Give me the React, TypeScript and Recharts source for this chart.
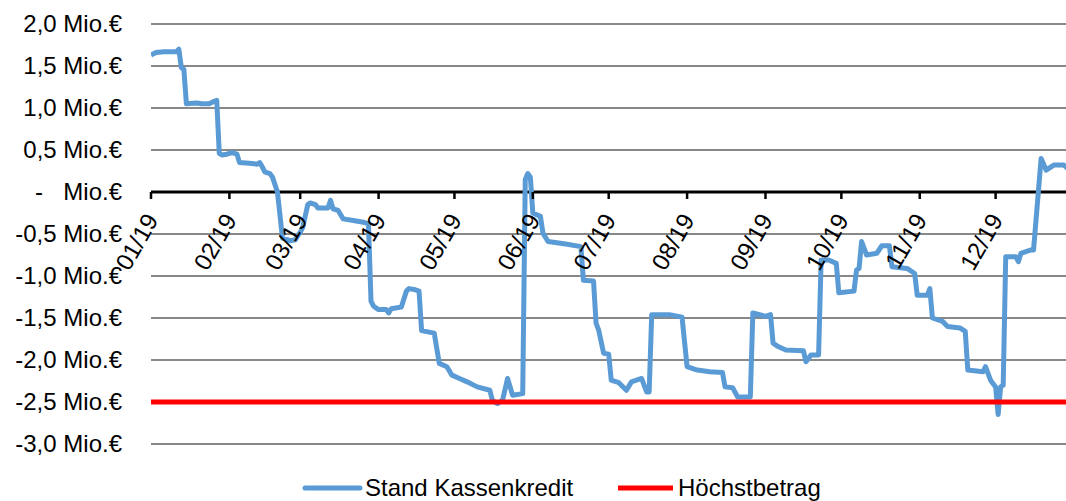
import React from 'react';
import {
  LineChart,
  Line,
  XAxis,
  YAxis,
  CartesianGrid,
  ReferenceLine,
  ReferenceDot,
  Legend,
} from 'recharts';

// Day of year 2019 (0 = 01.01.) and Stand Kassenkredit in Mio. €
const days = [
  0, 2, 5, 10, 11, 12, 13, 14, 18, 20, 23, 25, 26, 27, 28, 30, 32, 34, 35, 40,
  42, 43, 44, 45, 47, 48, 50, 52, 55, 57, 58, 59, 60, 62, 63, 65, 66, 70, 71, 72,
  74, 76, 80, 84, 86, 87, 88, 90, 93, 94, 95, 99, 101, 102, 104, 106, 107, 112, 114, 117,
  119, 122, 125, 129, 134, 135, 137, 139, 141, 143, 147, 148, 149, 150, 151, 154, 155, 157, 164, 170,
  171, 175, 176, 177, 179, 181, 182, 185, 188, 190, 194, 196, 197, 198, 205, 210, 212, 216, 221, 226,
  227, 230, 232, 237, 238, 243, 245, 246, 248, 251, 258, 259, 261, 264, 265, 268, 271, 272, 278, 279,
  280, 281, 283, 287, 289, 292, 293, 299, 302, 303, 307, 308, 309, 313, 315, 320, 322, 323, 329, 330,
  332, 334, 335, 336, 337, 338, 342, 343, 344, 348, 349, 352, 354, 357, 361, 363,
];
const kassenkredit = [
  1.63, 1.66, 1.67, 1.67, 1.7, 1.48, 1.46, 1.05, 1.06, 1.05, 1.05, 1.08, 1.09, 0.46, 0.44, 0.45, 0.47, 0.45, 0.35, 0.34,
  0.33, 0.35, 0.3, 0.24, 0.22, 0.18, 0.0, -0.55, -0.58, -0.57, -0.52, -0.48, -0.42, -0.15, -0.13, -0.15, -0.19, -0.19, -0.1, -0.2,
  -0.22, -0.32, -0.34, -0.36, -0.38, -1.3, -1.36, -1.4, -1.4, -1.44, -1.39, -1.37, -1.18, -1.15, -1.16, -1.18, -1.65, -1.68, -2.04, -2.08,
  -2.18, -2.22, -2.26, -2.32, -2.36, -2.48, -2.52, -2.48, -2.22, -2.42, -2.4, 0.15, 0.22, 0.18, -0.25, -0.29, -0.49, -0.59, -0.62, -0.65,
  -1.05, -1.06, -1.56, -1.64, -1.92, -1.93, -2.24, -2.27, -2.36, -2.26, -2.22, -2.38, -2.38, -1.46, -1.46, -1.49, -2.08, -2.12, -2.14, -2.15,
  -2.32, -2.33, -2.44, -2.44, -1.44, -1.48, -1.46, -1.8, -1.84, -1.88, -1.89, -2.02, -1.94, -1.94, -0.81, -0.81, -0.85, -1.2, -1.18, -0.93,
  -0.91, -0.59, -0.75, -0.73, -0.64, -0.64, -0.89, -0.91, -0.97, -1.23, -1.23, -1.15, -1.5, -1.54, -1.6, -1.62, -1.66, -2.12, -2.14, -2.08,
  -2.24, -2.32, -2.65, -2.32, -2.3, -0.77, -0.77, -0.83, -0.73, -0.69, -0.69, 0.4, 0.26, 0.32, 0.32, 0.27,
];

const hoechstDays = [0, 365];
const hoechstbetrag = [-2.5, -2.5];

const monthStartDays = [0, 31, 59, 90, 120, 151, 181, 212, 243, 273, 304, 334];
const monthLabels = ['01/19', '02/19', '03/19', '04/19', '05/19', '06/19', '07/19', '08/19', '09/19', '10/19', '11/19', '12/19'];

const yTicks = [-3, -2.5, -2, -1.5, -1, -0.5, 0, 0.5, 1, 1.5, 2];

const seriesNames = ['Stand Kassenkredit', 'Höchstbetrag'];
const seriesColors = ['#5B9BD5', '#FF0000'];

const kreditData = days.map((d, i) => ({ day: d, kredit: kassenkredit[i] }));
const hoechstData = hoechstDays.map((d, i) => ({ day: d, hoechst: hoechstbetrag[i] }));

const FONT = '"Liberation Sans", Arial, Helvetica, sans-serif';

const YTick = (props: any) => {
  const { x, y, payload } = props;
  const v = payload.value as number;
  if (v === 0) {
    return (
      <g>
        <text x={x - 87} y={y} dy="0.35em" textAnchor="start" fontFamily={FONT} fontSize={24} fill="#000">
          -
        </text>
        <text x={x} y={y} dy="0.35em" textAnchor="end" fontFamily={FONT} fontSize={24} fill="#000">
          Mio.€
        </text>
      </g>
    );
  }
  const label = v.toFixed(1).replace('.', ',') + ' Mio.€';
  return (
    <text x={x} y={y} dy="0.35em" textAnchor="end" fontFamily={FONT} fontSize={24} fill="#000">
      {label}
    </text>
  );
};

const MonthMark = ({ cx, cy, label }: { cx: number; cy: number; label: string }) => {
  if (cx == null || cy == null) return null;
  const tx = cx + 8;
  const ty = cy + 28;
  return (
    <g>
      <line x1={cx} x2={cx} y1={cy} y2={cy + 7} stroke="#000" strokeWidth={2.5} />
      <text
        x={tx}
        y={ty}
        textAnchor="end"
        transform={`rotate(-60 ${tx} ${ty})`}
        fontFamily={FONT}
        fontSize={24}
        fill="#000"
      >
        {label}
      </text>
    </g>
  );
};

const renderLegend = () => (
  <svg width={1066} height={40} style={{ display: 'block' }}>
    <line x1={305} x2={360} y1={14} y2={14} stroke={seriesColors[0]} strokeWidth={5} strokeLinecap="round" />
    <text x={365} y={22} fontFamily={FONT} fontSize={24} fill="#000">
      {seriesNames[0]}
    </text>
    <line x1={618} x2={673} y1={14} y2={14} stroke={seriesColors[1]} strokeWidth={5} />
    <text x={678} y={22} fontFamily={FONT} fontSize={24} fill="#000">
      {seriesNames[1]}
    </text>
  </svg>
);

export default function App() {
  return (
    <div
      style={{
        position: 'fixed',
        top: 0,
        left: 0,
        width: 1066,
        height: 501,
        overflow: 'hidden',
        background: '#fff',
      }}
    >
      <LineChart
        width={1074}
        height={520}
        data={kreditData}
        margin={{ top: 24, right: 0, bottom: 36, left: 0 }}
      >
        <CartesianGrid horizontal vertical={false} stroke="#888888" strokeWidth={2} />
        <XAxis type="number" dataKey="day" domain={[0, 365]} hide allowDataOverflow />
        <YAxis
          type="number"
          domain={[-3, 2]}
          ticks={yTicks}
          width={151}
          axisLine={false}
          tickLine={false}
          tickSize={0}
          tickMargin={29}
          tick={<YTick />}
          interval={0}
        />
        <ReferenceLine y={0} stroke="#000" strokeWidth={3} />
        {monthStartDays.map((d, i) => (
          <ReferenceDot
            key={monthLabels[i]}
            x={d}
            y={0}
            r={0}
            ifOverflow="visible"
            shape={(p: any) => <MonthMark cx={p.cx} cy={p.cy} label={monthLabels[i]} />}
          />
        ))}
        <Line
          type="linear"
          dataKey="kredit"
          name={seriesNames[0]}
          stroke={seriesColors[0]}
          strokeWidth={5}
          strokeLinejoin="round"
          dot={false}
          activeDot={false}
          isAnimationActive={false}
        />
        <Line
          type="linear"
          data={hoechstData}
          dataKey="hoechst"
          name={seriesNames[1]}
          stroke={seriesColors[1]}
          strokeWidth={5}
          dot={false}
          activeDot={false}
          isAnimationActive={false}
        />
        <Legend
          verticalAlign="bottom"
          content={renderLegend}
          wrapperStyle={{ position: 'absolute', top: 474, left: 0, width: 1066, height: 40 }}
        />
      </LineChart>
    </div>
  );
}
